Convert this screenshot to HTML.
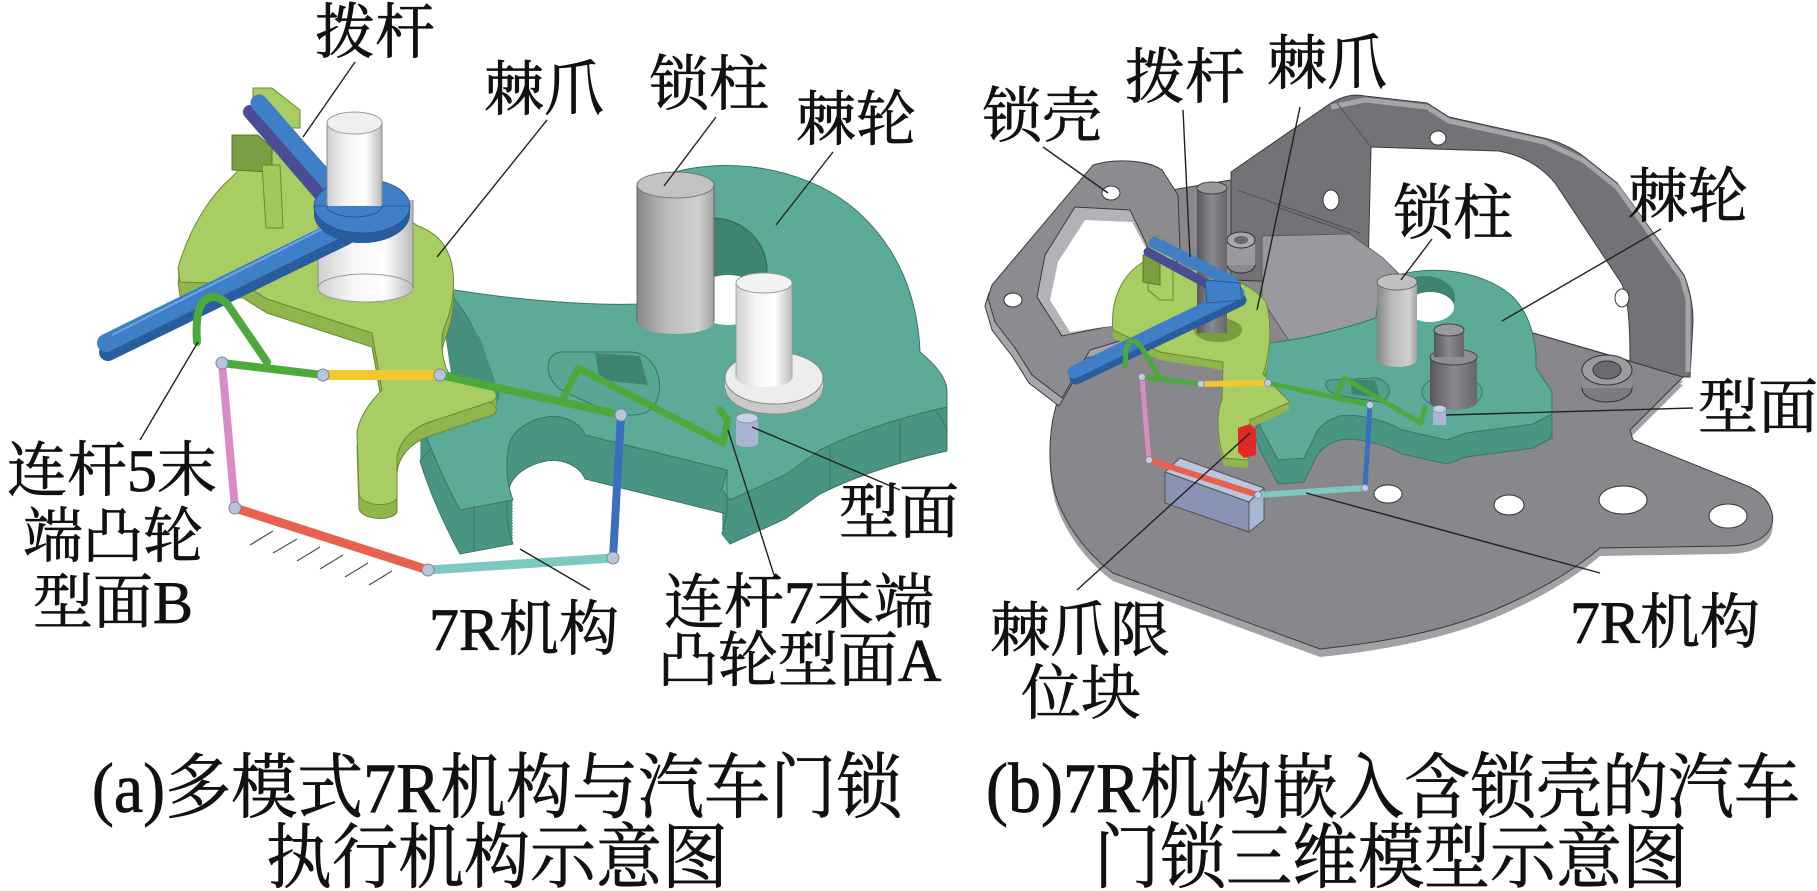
<!DOCTYPE html>
<html><head><meta charset="utf-8">
<style>
html,body{margin:0;padding:0;background:#fff;}
svg{display:block;}
text{font-family:"Liberation Serif","Noto Serif CJK SC","Noto Serif CJK JP",serif;fill:#111;stroke:#111;stroke-width:0.7;}
</style></head><body>
<svg width="1817" height="891" viewBox="0 0 1817 891" xmlns="http://www.w3.org/2000/svg">
<defs>
<linearGradient id="cylWhite" x1="0" y1="0" x2="1" y2="0">
<stop offset="0" stop-color="#cfcfcf"/><stop offset="0.35" stop-color="#f4f4f4"/><stop offset="0.7" stop-color="#ffffff"/><stop offset="1" stop-color="#bababa"/></linearGradient>
<linearGradient id="cylGrey" x1="0" y1="0" x2="1" y2="0">
<stop offset="0" stop-color="#888888"/><stop offset="0.4" stop-color="#bdbdbd"/><stop offset="0.8" stop-color="#cfcfcf"/><stop offset="1" stop-color="#a2a2a2"/></linearGradient>
<linearGradient id="cylDark" x1="0" y1="0" x2="1" y2="0">
<stop offset="0" stop-color="#58585c"/><stop offset="0.5" stop-color="#8a8a8e"/><stop offset="1" stop-color="#67676b"/></linearGradient>
<path id="tealA" d="M443,288 C500,298 580,306 640,304 L640,186 C700,152 800,160 858,212 C900,250 918,300 920,352 C932,362 947,376 947,392 L947,407 C910,415 860,430 820,450 L785,475 L730,500 L722,490 L727,470 L585,435 C580,422 562,414 546,417 C526,421 512,432 509,445 C505,465 507,485 513,500 L460,510 C445,482 430,450 420,417 C440,395 470,365 478,340 C470,318 457,300 443,288 Z"/>
<path id="pawlA" d="M232,177 C213,193 190,225 178,268 L180,282 L243,284 L267,299 L313,314 L372,333 L382,390 C372,400 360,415 357,432 L359,495 C362,506 392,508 397,498 L397,458 C399,442 410,430 427,423 L493,401 C500,396 496,388 482,386 L448,372 C442,360 440,340 444,328 C452,310 455,290 453,272 C450,245 435,232 418,226 L330,168 L285,150 L258,150 Z"/>
<path id="plateB" d="M1060,394 C1048,425 1046,470 1058,502 C1070,532 1090,556 1113,573 L1320,649 C1410,640 1470,622 1510,603 C1550,585 1580,565 1600,548 L1727,546 C1762,546 1776,530 1772,513 C1768,498 1758,490 1745,485 L1633,440 L1630,430 L1683,377 L1533,333 L1370,285 L1231,280 L1231,180 L1172,190 L1150,250 L1100,340 Z"/>
<path id="tealB" d="M1267,343 C1300,340 1340,330 1376,318 L1380,282 C1420,262 1480,268 1512,296 C1532,316 1537,345 1536,368 L1552,392 L1552,414 L1533,424 L1466,433 L1447,440 L1402,430 C1385,420 1355,413 1340,416 C1325,420 1316,430 1313,440 L1304,458 L1278,460 L1262,430 L1254,410 C1262,390 1270,370 1267,343 Z"/>
<path id="pawlB" d="M1143,262 C1122,275 1110,300 1113,330 L1160,352 L1223,362 L1222,400 C1216,412 1217,440 1224,458 L1248,460 L1250,420 L1290,402 L1276,388 L1263,374 C1271,352 1272,322 1266,302 C1252,283 1218,272 1180,268 Z"/>
</defs>

<!-- ================= PANEL A ================= -->
<g fill="#4a9483">
<use href="#tealA" y="3"/><use href="#tealA" y="6"/><use href="#tealA" y="9"/><use href="#tealA" y="12"/><use href="#tealA" y="15"/><use href="#tealA" y="18"/><use href="#tealA" y="21"/><use href="#tealA" y="24"/><use href="#tealA" y="27"/><use href="#tealA" y="30"/><use href="#tealA" y="33"/><use href="#tealA" y="36"/><use href="#tealA" y="39"/><use href="#tealA" y="42"/><use href="#tealA" y="44"/>
</g>
<use href="#tealA" y="44" fill="none" stroke="#3b7567" stroke-width="1"/>
<use href="#tealA" fill="#5cab98" stroke="#3b7567" stroke-width="1"/>
<polygon points="443,292 480,338 500,395 495,410 455,400 446,340" fill="#468f7e"/>
<ellipse cx="712" cy="270" rx="55" ry="52" fill="#3f8373" stroke="#2f6458"/>
<ellipse cx="728" cy="300" rx="35" ry="25" fill="#fff"/>
<path d="M560,352 L630,352 C660,352 668,395 650,410 C640,418 620,416 600,408 L565,392 C545,383 542,355 560,352 Z" fill="#58a794" stroke="#3a7668"/>
<polygon points="595,353 640,356 648,385 600,380" fill="#3f8373"/>
<line x1="900" y1="420" x2="900" y2="462" stroke="#3b7567"/><line x1="830" y1="446" x2="830" y2="490" stroke="#3b7567"/><line x1="474" y1="506" x2="474" y2="550" stroke="#3b7567"/>
<line x1="947" y1="407" x2="947" y2="451" stroke="#3b7567"/><line x1="727" y1="470" x2="727" y2="514" stroke="#3b7567"/>
<!-- lock post a -->
<rect x="637" y="185" width="77" height="137" fill="url(#cylGrey)"/>
<ellipse cx="675.5" cy="322" rx="38.5" ry="12" fill="url(#cylGrey)"/>
<ellipse cx="675.5" cy="185" rx="38.5" ry="13" fill="#c2c2c2" stroke="#777"/>
<line x1="637" y1="185" x2="637" y2="322" stroke="#666"/><line x1="714" y1="185" x2="714" y2="322" stroke="#666"/>
<!-- washer + small cylinder -->
<ellipse cx="774" cy="388" rx="49" ry="26" fill="#c9c9c9" stroke="#888"/>
<rect x="725" y="378" width="98" height="10" fill="#d5d5d5"/>
<ellipse cx="774" cy="378" rx="49" ry="26" fill="#ececec" stroke="#888"/>
<rect x="736" y="283" width="56" height="95" fill="url(#cylWhite)" stroke="#999" stroke-width="0.8"/>
<ellipse cx="764" cy="378" rx="28" ry="9" fill="url(#cylWhite)"/>
<ellipse cx="764" cy="283" rx="28" ry="10" fill="#f2f2f2" stroke="#999"/>
<rect x="736" y="418" width="22" height="25" fill="#a9b5d3"/>
<ellipse cx="747" cy="443" rx="11" ry="4" fill="#a9b5d3"/>
<ellipse cx="747" cy="418" rx="11" ry="5" fill="#c7d0e5" stroke="#7d88a6" stroke-width="0.8"/>
<!-- pawl a -->
<g fill="#8fb54c"><use href="#pawlA" y="3"/><use href="#pawlA" y="6"/><use href="#pawlA" y="9"/><use href="#pawlA" y="12"/><use href="#pawlA" y="14"/></g>
<use href="#pawlA" y="14" fill="none" stroke="#6b8a35" stroke-width="1"/>
<use href="#pawlA" fill="#a8cd62" stroke="#6b8a35" stroke-width="1"/>
<polygon points="253,88 272,88 300,110 300,128 285,128 253,104" fill="#a8cd62" stroke="#6b8a35"/>
<polygon points="232,135 258,135 272,148 272,172 232,170" fill="#7c9e42" stroke="#5a7a2a"/>
<polygon points="262,165 280,165 283,228 266,228" fill="#a2c85c" stroke="#6b8a35"/>
<!-- lower white cylinder -->
<rect x="318" y="200" width="95" height="88" fill="url(#cylWhite)"/>
<ellipse cx="365.5" cy="288" rx="47.5" ry="14" fill="url(#cylWhite)" stroke="#999"/>
<line x1="318" y1="200" x2="318" y2="288" stroke="#888"/><line x1="413" y1="200" x2="413" y2="288" stroke="#888"/>
<!-- blue lever a -->
<line x1="250" y1="112" x2="322" y2="196" stroke="#4a4d96" stroke-width="14" stroke-linecap="round"/>
<line x1="259" y1="103" x2="332" y2="186" stroke="#3e7fc7" stroke-width="17" stroke-linecap="round"/>
<ellipse cx="362" cy="214" rx="48" ry="29" fill="#2a5d9e"/>
<ellipse cx="362" cy="206" rx="48" ry="27" fill="#3e7fc7" stroke="#26508a" stroke-width="0.8"/>
<line x1="108" y1="352" x2="346" y2="236" stroke="#2a5d9e" stroke-width="18" stroke-linecap="round"/>
<line x1="106" y1="343" x2="344" y2="226" stroke="#3e7fc7" stroke-width="18" stroke-linecap="round"/>
<line x1="112" y1="335" x2="340" y2="220" stroke="#6ea6e4" stroke-width="2"/>
<!-- upper cylinder -->
<rect x="327" y="123" width="55" height="83" fill="url(#cylWhite)"/>
<line x1="327" y1="123" x2="327" y2="206" stroke="#888"/><line x1="382" y1="123" x2="382" y2="206" stroke="#888"/>
<ellipse cx="354.5" cy="123" rx="27.5" ry="11" fill="#efefef" stroke="#999"/>
<path d="M314,206 A48,27 0 0 0 410,206 L410,214 A48,29 0 0 1 314,214 Z" fill="#2a5d9e"/>
<path d="M314,206 A48,27 0 0 0 410,206 L382,206 A27.5,11 0 0 1 327,206 Z" fill="#3e7fc7" stroke="#26508a" stroke-width="0.8"/>
<!-- 7R links a -->
<g stroke-linecap="round" fill="none">
<line x1="222" y1="363" x2="235" y2="508" stroke="#d98bc4" stroke-width="8"/>
<line x1="235" y1="508" x2="428" y2="570" stroke="#e8604e" stroke-width="9"/>
<line x1="428" y1="570" x2="613" y2="558" stroke="#7cc9c2" stroke-width="9"/>
<line x1="613" y1="558" x2="621" y2="415" stroke="#3a6fc0" stroke-width="8"/>
<line x1="222" y1="363" x2="323" y2="375" stroke="#4caa3c" stroke-width="8"/>
<line x1="440" y1="375" x2="621" y2="415" stroke="#4caa3c" stroke-width="8"/>
<polyline points="564,397 578,368 723,443 728,420 720,410" stroke="#4caa3c" stroke-width="7" stroke-linejoin="round"/>
<line x1="323" y1="375" x2="440" y2="375" stroke="#f2c832" stroke-width="10"/>
<path d="M267,362 L228,305 Q214,290 202,303 Q195,315 197,342" stroke="#4caa3c" stroke-width="8"/>
</g>
<g fill="#b9c4d8" stroke="#7a86a0" stroke-width="1">
<circle cx="222" cy="363" r="6"/><circle cx="235" cy="508" r="6"/><circle cx="428" cy="570" r="6"/><circle cx="613" cy="558" r="6"/><circle cx="621" cy="415" r="6"/><circle cx="323" cy="375" r="6"/><circle cx="440" cy="375" r="6"/>
</g>
<g stroke="#555" stroke-width="1.3">
<line x1="250" y1="545" x2="273" y2="531"/><line x1="273" y1="553" x2="297" y2="539"/><line x1="297" y1="561" x2="320" y2="547"/><line x1="320" y1="569" x2="343" y2="555"/><line x1="345" y1="577" x2="368" y2="563"/><line x1="369" y1="585" x2="392" y2="571"/>
</g>
<g stroke="#222" stroke-width="1.4">
<line x1="355" y1="62" x2="303" y2="137"/>
<line x1="547" y1="120" x2="437" y2="257"/>
<line x1="716" y1="117" x2="664" y2="186"/>
<line x1="833" y1="152" x2="776" y2="225"/>
<line x1="140" y1="440" x2="198" y2="342"/>
<line x1="900" y1="490" x2="752" y2="427"/>
<line x1="590" y1="590" x2="520" y2="549"/>
<line x1="774" y1="575" x2="728" y2="430"/>
</g>
<g font-size="60">
<text x="315" y="53">拨杆</text>
<text x="484" y="110">棘爪</text>
<text x="649" y="105">锁柱</text>
<text x="796" y="140">棘轮</text>
<text x="112" y="491" text-anchor="middle">连杆5末</text>
<text x="113" y="557" text-anchor="middle">端凸轮</text>
<text x="113" y="623" text-anchor="middle">型面B</text>
<text x="839" y="533">型面</text>
<text x="429" y="650">7R机构</text>
<text x="664" y="623">连杆7末端</text>
<text x="658" y="681">凸轮型面A</text>
</g>

<!-- ================= PANEL B ================= -->
<path d="M1231,280 L1231,172 L1331,103 C1345,95 1355,94 1365,96 L1427,103 L1449,117 L1544,138 C1560,142 1572,148 1583,156 L1617,183 L1684,275 C1690,290 1693,305 1693,321 L1690,377 L1683,377 L1533,333 L1370,285 Z" fill="#737377" stroke="#3c3c3c"/>
<polyline points="1331,107 1365,100 1427,107 1449,121 1544,142 1583,160 1617,187 1682,278 1688,300 1688,372" fill="none" stroke="#a6a6aa" stroke-width="5"/>
<path d="M1371,147 L1499,151 C1520,155 1540,165 1555,183 L1622,284 C1628,300 1630,320 1630,361 L1533,333 L1420,300 L1368,272 Z" fill="#fff" stroke="#3c3c3c"/>
<line x1="1237" y1="190" x2="1360" y2="233" stroke="#505054"/>
<line x1="1337" y1="103" x2="1371" y2="147" stroke="#505054"/>
<line x1="1277" y1="207" x2="1350" y2="233" stroke="#505054"/>
<ellipse cx="1438" cy="138" rx="8" ry="7" fill="#fff" stroke="#333"/>
<ellipse cx="1331" cy="200" rx="8" ry="10" fill="#fff" stroke="#333"/>
<ellipse cx="1622" cy="298" rx="7" ry="9" fill="#fff" stroke="#333"/>
<g fill="#a2a2a6"><use href="#plateB" y="4"/><use href="#plateB" y="8"/></g>
<use href="#plateB" fill="#88888c" stroke="#3c3c3c" stroke-width="1"/>
<!-- left frame -->
<path d="M1093,165 C1115,158 1148,160 1162,170 L1178,195 L1180,250 L1165,300 L1140,335 L1090,350 L1062,398 L1032,375 L1015,348 L995,322 L988,298 L992,285 Z" fill="#a7a7ab" transform="translate(-3,8)" stroke="#3c3c3c"/>
<path d="M1093,165 C1115,158 1148,160 1162,170 L1178,195 L1180,250 L1165,300 L1140,335 L1090,350 L1062,398 L1032,375 L1015,348 L995,322 L988,298 L992,285 Z" fill="#8c8c90" stroke="#3c3c3c"/>
<polygon points="1075,207 1130,210 1147,245 1150,300 1110,326 1062,336 1037,297 1045,255" fill="#b3b3b7" stroke="#3c3c3c"/>
<polygon points="1085,220 1132,222 1147,250 1150,300 1112,326 1070,332 1050,300 1058,262" fill="#fff"/>
<ellipse cx="1111" cy="193" rx="9" ry="7" fill="#fff" stroke="#333"/>
<ellipse cx="1013" cy="300" rx="9" ry="7" fill="#fff" stroke="#333"/>
<ellipse cx="1241" cy="265" rx="14" ry="8" fill="#8a8a8e" stroke="#333"/>
<rect x="1227" y="240" width="28" height="25" fill="#9a9a9e"/>
<ellipse cx="1241" cy="240" rx="14" ry="8" fill="#a8a8ac" stroke="#333"/>
<ellipse cx="1241" cy="240" rx="7" ry="4" fill="#6a6a6e"/>
<ellipse cx="1607" cy="388" rx="25" ry="14" fill="#7c7c80" stroke="#333"/>
<rect x="1582" y="370" width="50" height="18" fill="#8e8e92"/>
<ellipse cx="1607" cy="370" rx="25" ry="15" fill="#9c9ca0" stroke="#333"/>
<ellipse cx="1607" cy="370" rx="14" ry="9" fill="#6c6c70" stroke="#333"/>
<ellipse cx="1388" cy="494" rx="14" ry="9" fill="#fff" stroke="#333"/>
<ellipse cx="1509" cy="505" rx="15" ry="10" fill="#fff" stroke="#333"/>
<ellipse cx="1623" cy="500" rx="24" ry="14" fill="#fff" stroke="#333"/>
<ellipse cx="1728" cy="516" rx="19" ry="12" fill="#fff" stroke="#333"/>
<polygon points="1262,236 1350,234 1383,258 1400,275 1376,318 1292,345 1262,300" fill="#9a9a9e" stroke="#555" stroke-width="0.8"/>
<!-- teal b -->
<g fill="#4a9483"><use href="#tealB" y="4"/><use href="#tealB" y="8"/><use href="#tealB" y="12"/><use href="#tealB" y="16"/><use href="#tealB" y="20"/><use href="#tealB" y="24"/></g>
<use href="#tealB" y="24" fill="none" stroke="#3b7567" stroke-width="1"/>
<use href="#tealB" fill="#5cab98" stroke="#3b7567" stroke-width="1"/>
<ellipse cx="1425" cy="298" rx="30" ry="22" fill="#3f8373"/>
<ellipse cx="1430" cy="307" rx="24" ry="15" fill="#fff"/>
<path d="M1330,380 L1375,378 C1392,380 1394,398 1380,402 L1340,396 C1325,392 1322,382 1330,380 Z" fill="#52a08d" stroke="#3a7668"/>
<polygon points="1350,380 1375,380 1380,398 1352,394" fill="#3f8373"/>
<ellipse cx="1452" cy="392" rx="30" ry="17" fill="#58a794" stroke="#3a7668"/>
<rect x="1377" y="282" width="40" height="78" fill="url(#cylGrey)"/>
<ellipse cx="1397" cy="360" rx="20" ry="7" fill="url(#cylGrey)"/>
<ellipse cx="1397" cy="282" rx="20" ry="8" fill="#c0c0c0" stroke="#666"/>
<rect x="1430" y="357" width="47" height="45" fill="url(#cylDark)"/>
<ellipse cx="1453.5" cy="402" rx="23.5" ry="8" fill="url(#cylDark)"/>
<ellipse cx="1453.5" cy="357" rx="23.5" ry="8" fill="#8e8e92" stroke="#444"/>
<rect x="1434" y="330" width="30" height="27" fill="url(#cylDark)"/>
<ellipse cx="1449" cy="330" rx="15" ry="6" fill="#9a9a9e" stroke="#444"/>
<rect x="1433" y="409" width="13" height="16" fill="#a9b5d3"/>
<ellipse cx="1439.5" cy="409" rx="6.5" ry="3.5" fill="#c7d0e5" stroke="#7d88a6" stroke-width="0.6"/>
<!-- pawl b -->
<g fill="#8fb54c"><use href="#pawlB" y="3"/><use href="#pawlB" y="6"/><use href="#pawlB" y="8"/></g>
<use href="#pawlB" fill="#a8cd62" stroke="#6b8a35" stroke-width="1"/>
<ellipse cx="1218" cy="330" rx="24" ry="12" fill="#7a9c3c"/>
<polygon points="1150,237 1160,237 1173,248 1173,300 1160,300 1148,290" fill="#a8cd62" stroke="#6b8a35"/>
<polygon points="1143,255 1160,255 1160,285 1143,282" fill="#7c9e42" stroke="#5a7a2a"/>
<rect x="1197" y="188" width="30" height="145" fill="url(#cylDark)"/>
<ellipse cx="1212" cy="188" rx="15" ry="6" fill="#98989c" stroke="#444"/>
<line x1="1148" y1="252" x2="1222" y2="292" stroke="#4a4d96" stroke-width="9" stroke-linecap="round"/>
<line x1="1155" y1="243" x2="1232" y2="282" stroke="#3e7fc7" stroke-width="12" stroke-linecap="round"/>
<line x1="1076" y1="378" x2="1240" y2="300" stroke="#2a5d9e" stroke-width="13" stroke-linecap="round"/>
<line x1="1074" y1="372" x2="1238" y2="293" stroke="#3e7fc7" stroke-width="13" stroke-linecap="round"/>
<polygon points="1205,280 1240,283 1242,300 1207,303" fill="#3e7fc7" stroke="#26508a" stroke-width="0.8"/>
<polygon points="1165,472 1180,458 1264,488 1249,502" fill="#bac6df" stroke="#555"/>
<polygon points="1165,472 1249,502 1249,532 1165,503" fill="#8a93b3" stroke="#555"/>
<polygon points="1249,502 1264,488 1264,520 1249,532" fill="#a9b6d3" stroke="#555"/>
<polygon points="1238,428 1250,424 1256,430 1256,455 1244,458 1238,452" fill="#e32626"/>
<g stroke-linecap="round" fill="none">
<line x1="1142" y1="377" x2="1149" y2="460" stroke="#d98bc4" stroke-width="5"/>
<line x1="1149" y1="460" x2="1258" y2="495" stroke="#e8604e" stroke-width="6"/>
<line x1="1258" y1="495" x2="1365" y2="488" stroke="#7cc9c2" stroke-width="6"/>
<line x1="1365" y1="488" x2="1370" y2="405" stroke="#3a6fc0" stroke-width="5"/>
<line x1="1142" y1="377" x2="1201" y2="384" stroke="#4caa3c" stroke-width="5"/>
<line x1="1268" y1="383" x2="1370" y2="405" stroke="#4caa3c" stroke-width="5"/>
<polyline points="1337,395 1344,378 1421,423 1425,407" stroke="#4caa3c" stroke-width="5" stroke-linejoin="round"/>
<line x1="1201" y1="384" x2="1268" y2="383" stroke="#f2c832" stroke-width="6"/>
<path d="M1160,378 L1140,345 Q1130,335 1126,350 L1125,367" stroke="#4caa3c" stroke-width="5"/>
</g>
<g fill="#c4cde0" stroke="#7a86a0" stroke-width="0.8">
<circle cx="1142" cy="377" r="3.5"/><circle cx="1149" cy="460" r="3.5"/><circle cx="1258" cy="495" r="3.5"/><circle cx="1365" cy="488" r="3.5"/><circle cx="1370" cy="405" r="3.5"/><circle cx="1201" cy="384" r="3.5"/><circle cx="1268" cy="383" r="3.5"/>
</g>
<g stroke="#222" stroke-width="1.4">
<line x1="1043" y1="147" x2="1108" y2="193"/>
<line x1="1183" y1="110" x2="1190" y2="257"/>
<line x1="1300" y1="107" x2="1257" y2="310"/>
<line x1="1432" y1="239" x2="1401" y2="280"/>
<line x1="1661" y1="229" x2="1502" y2="321"/>
<line x1="1693" y1="408" x2="1446" y2="415"/>
<line x1="1600" y1="573" x2="1306" y2="493"/>
<line x1="1077" y1="590" x2="1250" y2="433"/>
</g>
<g font-size="60">
<text x="982" y="137">锁壳</text>
<text x="1125" y="98">拨杆</text>
<text x="1267" y="84">棘爪</text>
<text x="1393" y="234">锁柱</text>
<text x="1628" y="217">棘轮</text>
<text x="1698" y="428">型面</text>
<text x="1570" y="643">7R机构</text>
<text x="990" y="651">棘爪限</text>
<text x="1021" y="714">位块</text>
</g>
<g font-size="66" text-anchor="middle">
<text transform="translate(497,812) scale(1,1.08)">(a)多模式7R机构与汽车门锁</text>
<text transform="translate(497,882) scale(1,1.08)">执行机构示意图</text>
<text transform="translate(1393,812) scale(1,1.08)">(b)7R机构嵌入含锁壳的汽车</text>
<text transform="translate(1391,882) scale(1,1.08)">门锁三维模型示意图</text>
</g>
</svg>
</body></html>
